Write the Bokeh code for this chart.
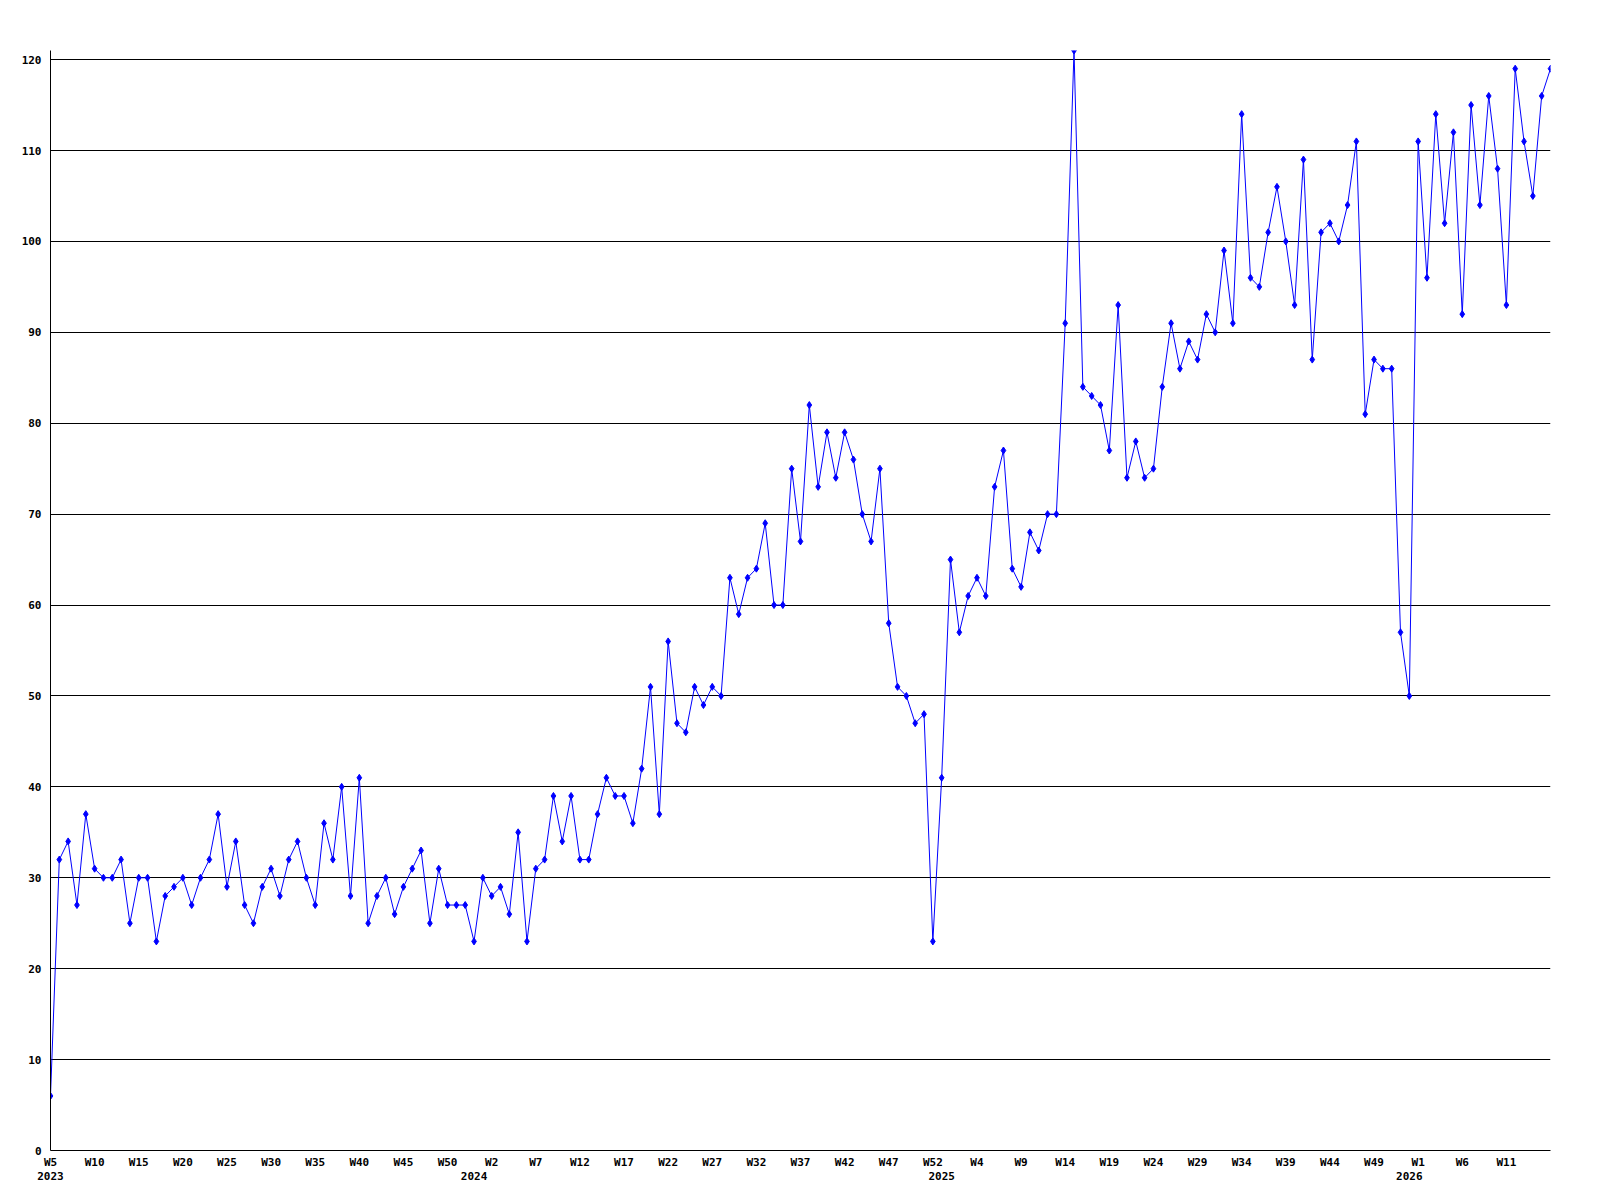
from bokeh.plotting import figure
from bokeh.models import FixedTicker, LinearAxis, Range1d, ColumnDataSource
from bokeh.embed import file_html
from bokeh.resources import INLINE

# ---- data (weekly counts, 2023 W5 -> 2026 W15, weeks numbered W0..W52) ----
start_year = 2023
start_week = 5
weeks_per_year = 53

values = [
    6, 32, 34, 27, 37, 31, 30, 30, 32, 25,
    30, 30, 23, 28, 29, 30, 27, 30, 32, 37,
    29, 34, 27, 25, 29, 31, 28, 32, 34, 30,
    27, 36, 32, 40, 28, 41, 25, 28, 30, 26,
    29, 31, 33, 25, 31, 27, 27, 27, 23, 30,
    28, 29, 26, 35, 23, 31, 32, 39, 34, 39,
    32, 32, 37, 41, 39, 39, 36, 42, 51, 37,
    56, 47, 46, 51, 49, 51, 50, 63, 59, 63,
    64, 69, 60, 60, 75, 67, 82, 73, 79, 74,
    79, 76, 70, 67, 75, 58, 51, 50, 47, 48,
    23, 41, 65, 57, 61, 63, 61, 73, 77, 64,
    62, 68, 66, 70, 70, 91, 121, 84, 83, 82,
    77, 93, 74, 78, 74, 75, 84, 91, 86, 89,
    87, 92, 90, 99, 91, 114, 96, 95, 101, 106,
    100, 93, 109, 87, 101, 102, 100, 104, 111, 81,
    87, 86, 86, 57, 50, 111, 96, 114, 102, 112,
    92, 115, 104, 116, 108, 93, 119, 111, 105, 116,
    119,
]

y_ticks = list(range(0, 121, 10))

idx = list(range(len(values)))
week_num = [(i + start_week) % weeks_per_year for i in idx]
year_num = [start_year + (i + start_week) // weeks_per_year for i in idx]

tick_idx = [i for i in idx if i % 5 == 0 and i < len(values) - 1]
tick_labels = {i: "W%d" % week_num[i] for i in tick_idx}

year_idx = [0] + [i for i in idx if week_num[i] == 0]
year_labels = {i: str(year_num[i]) for i in year_idx}

FONT = "DejaVu Sans Mono"

p = figure(
    frame_width=1500, frame_height=1100,
    min_border_left=50, min_border_right=50, min_border_top=50, min_border_bottom=42,
    x_range=Range1d(0, len(values) - 1), y_range=Range1d(0, max(values)),
    output_backend="svg", toolbar_location=None, tools="",
    background_fill_color="white", border_fill_color="white",
)
p.outline_line_color = None

src = ColumnDataSource(dict(x=idx, y=values))
p.line("x", "y", source=src, line_color="#0000ff", line_width=1)
p.scatter("x", "y", source=src, marker="diamond", size=7,
          fill_color="#0000ff", line_color="#0000ff")

# grid
p.xgrid.visible = False
p.ygrid.ticker = FixedTicker(ticks=y_ticks)
p.ygrid.grid_line_color = "black"
p.ygrid.grid_line_width = 1
p.ygrid.grid_line_alpha = 1.0

# y axis
ya = p.yaxis[0]
ya.ticker = FixedTicker(ticks=y_ticks)
ya.minor_tick_line_color = None
ya.major_tick_out = 0
ya.major_tick_in = 0
ya.major_label_standoff = 9
ya.axis_line_color = "black"
ya.major_label_text_font = FONT
ya.major_label_text_font_style = "bold"
ya.major_label_text_font_size = "11px"
ya.major_label_text_color = "black"

# x axis (week labels)
xa = p.xaxis[0]
xa.ticker = FixedTicker(ticks=tick_idx)
xa.major_label_overrides = tick_labels
xa.minor_tick_line_color = None
xa.major_tick_out = 0
xa.major_tick_in = 0
xa.major_label_standoff = 5
xa.axis_line_color = "black"
xa.major_label_text_font = FONT
xa.major_label_text_font_style = "bold"
xa.major_label_text_font_size = "11px"
xa.major_label_text_color = "black"

# second axis (year labels)
ya2 = LinearAxis(ticker=FixedTicker(ticks=year_idx), major_label_overrides=year_labels)
ya2.axis_line_color = None
ya2.major_tick_line_color = None
ya2.minor_tick_line_color = None
ya2.major_tick_out = 0
ya2.major_tick_in = 0
ya2.major_label_standoff = 0
ya2.major_label_text_font = FONT
ya2.major_label_text_font_style = "bold"
ya2.major_label_text_font_size = "11px"
ya2.major_label_text_color = "black"
p.add_layout(ya2, "below")

open("out.html", "w").write(file_html(p, INLINE))
